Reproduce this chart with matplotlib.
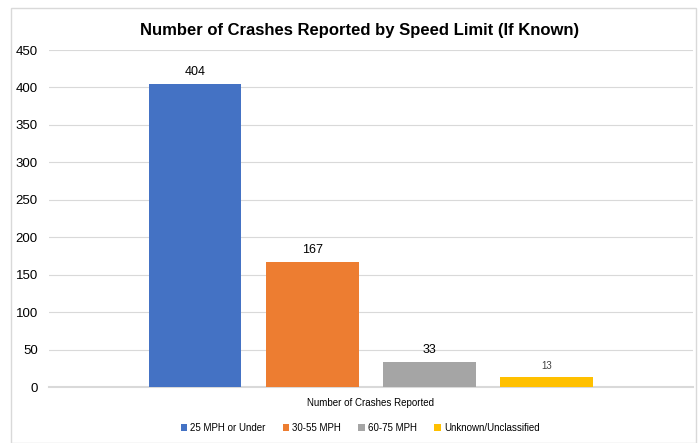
import matplotlib.pyplot as plt
from matplotlib.patches import Rectangle

plt.rcParams['font.family'] = ['Liberation Sans', 'DejaVu Sans']

categorias = ['25 MPH or Under', '30-55 MPH', '60-75 MPH', 'Unknown/Unclassified']
choques = [404, 167, 33, 13]
colores = ['#4472C4', '#ED7D31', '#A5A5A5', '#FFC000']
posiciones = [-1.5, -0.5, 0.5, 1.5]

fig = plt.figure(figsize=(6.99, 4.43), dpi=100)
ax = fig.add_axes([0.070, 0.1264, 0.921, 0.7607])

# Borde del gráfico
fig.patches.append(Rectangle((0.0157, 0.0), 0.98, 0.982, transform=fig.transFigure,
                             fill=False, edgecolor='#d9d9d9', linewidth=1))

barras = ax.bar(posiciones, choques, width=0.79, color=colores, zorder=3)

# Etiquetas de valores
for i, (p, v) in enumerate(zip(posiciones, choques)):
    if i == 3:
        ax.text(p, v + 8, str(v), ha='center', va='bottom', fontsize=7, color='#404040')
    else:
        ax.text(p, v + 8, str(v), ha='center', va='bottom', fontsize=9, color='#000000')

ax.set_xlim(-2.745, 2.745)
ax.set_ylim(0, 450)
ax.set_yticks(range(0, 451, 50))
ax.tick_params(axis='y', length=0, labelsize=9.5, pad=8)
ax.set_xticks([0])
ax.set_xticklabels(['Number of Crashes Reported'], fontsize=7)
ax.tick_params(axis='x', length=0, pad=8)
ax.grid(axis='y', color='#d9d9d9', linewidth=0.8, zorder=0)
for s in ['top', 'right', 'left']:
    ax.spines[s].set_visible(False)
ax.spines['bottom'].set_color('#d9d9d9')
ax.spines['bottom'].set_linewidth(1.5)

fig.text(0.514, 0.932, 'Number of Crashes Reported by Speed Limit (If Known)', fontsize=12,
         fontweight='bold', ha='center', va='center')

fig.legend(barras, categorias, loc='center', bbox_to_anchor=(0.515, 0.034), ncol=4,
           frameon=False, fontsize=7, handlelength=0.7, handleheight=0.7,
           handletextpad=0.3, columnspacing=1.75)

plt.savefig('out.png', dpi=100)
